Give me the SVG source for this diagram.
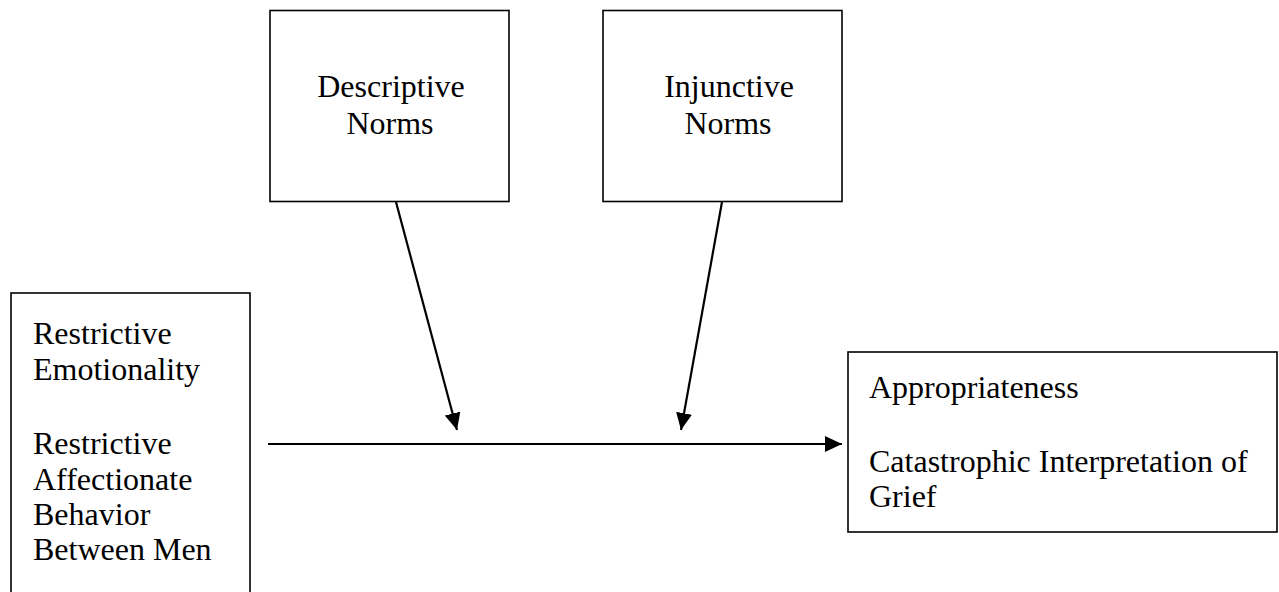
<svg xmlns="http://www.w3.org/2000/svg" width="1279" height="592" viewBox="0 0 1279 592">
<defs>
<style>
.box{fill:#fff;stroke:#000;stroke-width:1.6}
.t{font-family:"Liberation Serif","Times New Roman",serif;font-size:32px;fill:#000}
.c{text-anchor:middle}
.edge{stroke:#000;stroke-width:2.2;fill:none}
</style>
<marker id="ah" markerUnits="userSpaceOnUse" markerWidth="18" markerHeight="16" viewBox="0 0 18 16" refX="17" refY="8" orient="auto">
<path d="M0,0 L17,8 L0,16 Z" fill="#000"/>
</marker>
</defs>
<rect width="1279" height="592" fill="#fff"/>
<g id="descriptive">
<rect class="box" x="270" y="10.5" width="239" height="191"/>
<text class="t c" x="391" y="97">Descriptive</text>
<text class="t c" x="390" y="134">Norms</text>
</g>
<g id="injunctive">
<rect class="box" x="603" y="10.5" width="239" height="191"/>
<text class="t c" x="729" y="97">Injunctive</text>
<text class="t c" x="728" y="134">Norms</text>
</g>
<g id="predictors">
<rect class="box" x="11" y="293" width="239" height="310"/>
<text class="t" x="33" y="344">Restrictive</text>
<text class="t" x="33" y="380">Emotionality</text>
<text class="t" x="33" y="454">Restrictive</text>
<text class="t" x="33" y="490">Affectionate</text>
<text class="t" x="33" y="525">Behavior</text>
<text class="t" x="33" y="560">Between Men</text>
</g>
<g id="outcomes">
<rect class="box" x="848" y="352" width="429" height="180"/>
<text class="t" x="869" y="398">Appropriateness</text>
<text class="t" x="869" y="472">Catastrophic Interpretation of</text>
<text class="t" x="869" y="507">Grief</text>
</g>
<g id="connectors">
<line class="edge" x1="268" y1="444" x2="842" y2="444" marker-end="url(#ah)"/>
<line class="edge" x1="396" y1="202" x2="457" y2="430" marker-end="url(#ah)"/>
<line class="edge" x1="722" y1="202" x2="681" y2="430" marker-end="url(#ah)"/>
</g>
</svg>
